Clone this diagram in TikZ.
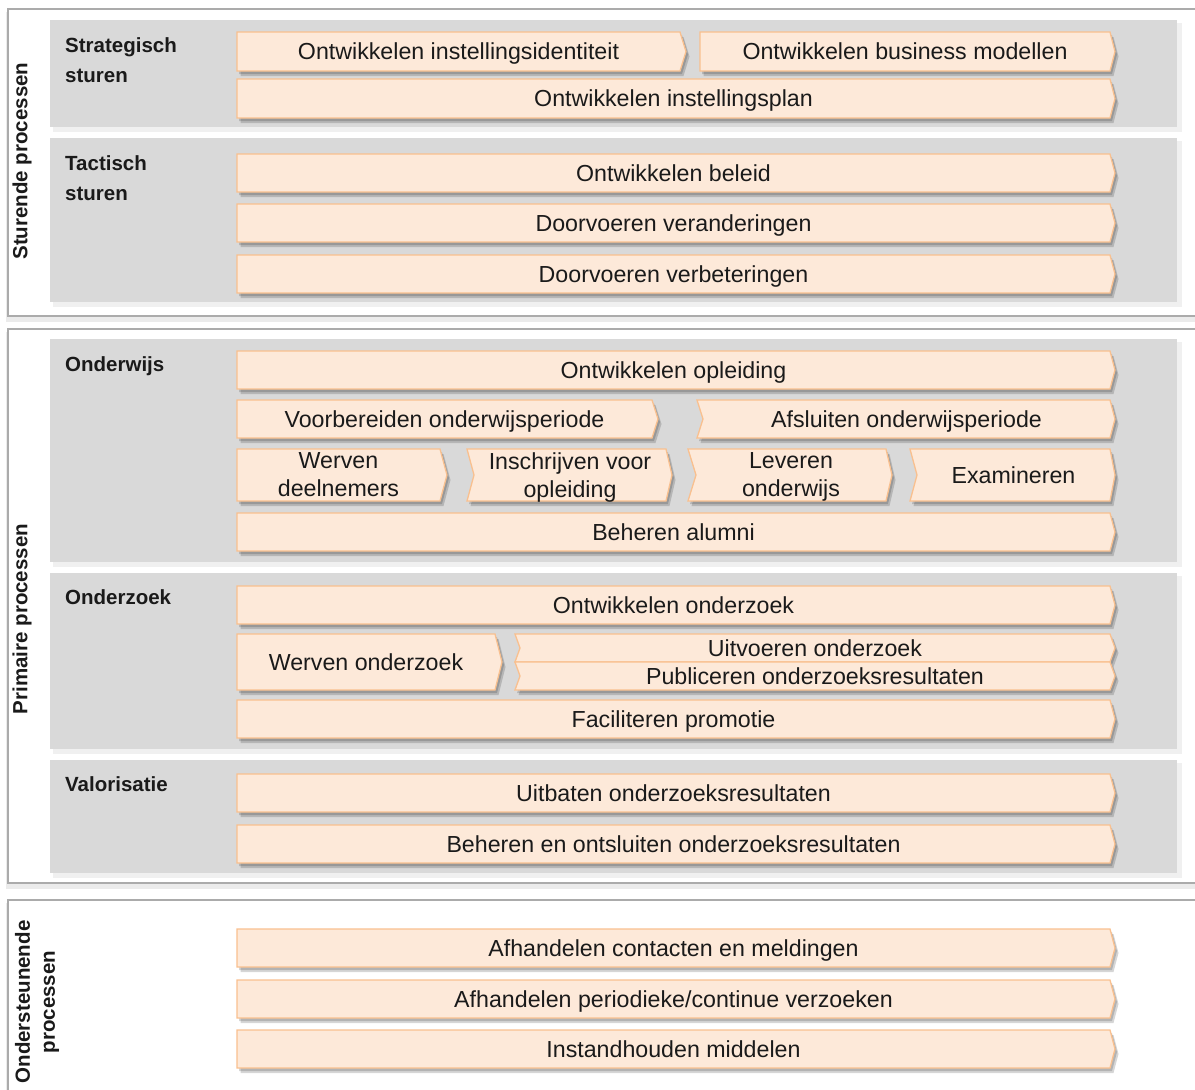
\documentclass[tikz,border=0pt]{standalone}
\usepackage{fontspec}
\setmainfont{Liberation Sans}
\definecolor{panelgray}{HTML}{D9D9D9}
\definecolor{framegray}{HTML}{ABABAB}
\definecolor{boxfill}{HTML}{FDE9D9}
\definecolor{boxline}{HTML}{F9C08F}
\definecolor{textdark}{HTML}{1A1A1A}

\tikzset{
  frameline/.style={draw=framegray, line width=1.6pt, fill=white},
  frameshadow/.style={fill=black, opacity=0.08},
  panel/.style={fill=panelgray},
  panelshadow/.style={fill=black, opacity=0.06},
  boxstyle/.style={fill=boxfill, draw=boxline, line width=1.3pt, line join=miter},
  boxshadow/.style={fill=black, opacity=0.16},
  boxtext/.style={text=textdark, inner sep=0pt,
    font=\fontsize{23.2}{28.3}\selectfont},
  grouplabel/.style={text=textdark, inner sep=0pt, align=left, anchor=north west,
    font=\bfseries\fontsize{20.5}{30.5}\selectfont},
  sidelabel/.style={text=textdark, inner sep=0pt, align=center, rotate=90,
    font=\bfseries\fontsize{20.5}{25}\selectfont}
}

% outline of a process step: x1, x2, y1, y2, left notch depth, right tip depth
\newcommand{\stepshape}[6]{%
  (#1,#3) -- (#2,#3) -- (#2+#6,\pbym) -- (#2,#4) -- (#1,#4) -- (#1+#5,\pbym) -- cycle}

% process step with shadow and outline
\newcommand{\stepbase}[6]{%
  \pgfmathsetmacro\pbym{(#3+#4)/2}%
  \pgfmathsetmacro\pbxm{(#1+#2+#5)/2}%
  \fill[boxshadow, shift={(3.5,5)}] \stepshape{#1}{#2}{#3}{#4}{#5}{#6};
  \fill[boxshadow, shift={(2,3)}] \stepshape{#1}{#2}{#3}{#4}{#5}{#6};
  \draw[boxstyle] \stepshape{#1}{#2}{#3}{#4}{#5}{#6};
}

% single-line process step: name, x1, x2, y1, y2, notch, tip, text
\newcommand{\procbox}[8]{%
  \stepbase{#2}{#3}{#4}{#5}{#6}{#7}%
  \node[boxtext, text height=16.6pt, text depth=0pt] (#1) at (\pbxm,\pbym) {#8};
}

% two-line process step: name, x1, x2, y1, y2, notch, tip, text
\newcommand{\procboxii}[8]{%
  \stepbase{#2}{#3}{#4}{#5}{#6}{#7}%
  \node[boxtext, align=center, anchor=north] (#1) at (\pbxm,\pbym-22.8) {#8};
}

\begin{document}
\begin{tikzpicture}[x=1pt, y=-1pt]
  \useasboundingbox (0,0) rectangle (1195,1090);
  \clip (0,0) rectangle (1195,1090);
  \fill[white] (0,0) rectangle (1195,1090);

  % outer frames
  \fill[frameshadow] (6,12) rectangle (1215,322);
  \draw[frameline] (8,9) rectangle (1215,316);
  \fill[frameshadow] (6,332) rectangle (1215,889);
  \draw[frameline] (8,329) rectangle (1215,883);
  \fill[frameshadow] (6,903) rectangle (1215,1110);
  \draw[frameline] (8,900) rectangle (1215,1110);

  % grey group panels
  \foreach \ya/\yb in {20/127, 138/302, 339/562, 573/749, 760/873} {
    \fill[panelshadow] (53,\ya+3) rectangle (1182,\yb+5);
    \fill[panel] (50,\ya) rectangle (1177,\yb);
  }

  % side labels
  \node[sidelabel] (sturende) at (22,161) {Sturende processen};
  \node[sidelabel] (primaire) at (22,619) {Primaire processen};
  \node[sidelabel] (ondersteunende) at (37,1002) {Ondersteunende\\processen};

  % group labels
  \node[grouplabel] (strategisch) at (65,37) {Strategisch\\sturen};
  \node[grouplabel] (tactisch) at (65,155) {Tactisch\\sturen};
  \node[grouplabel] (onderwijs) at (65,356) {Onderwijs};
  \node[grouplabel] (onderzoek) at (65,589) {Onderzoek};
  \node[grouplabel] (valorisatie) at (65,776) {Valorisatie};

  % strategisch sturen
  \procbox{s1}{237}{680}{32}{71}{0}{6}{Ontwikkelen instellingsidentiteit}
  \procbox{s2}{700}{1110}{32}{71}{0}{5}{Ontwikkelen business modellen}
  \procbox{s3}{237}{1110}{79}{118}{0}{5}{Ontwikkelen instellingsplan}

  % tactisch sturen
  \procbox{t1}{237}{1110}{154}{192}{0}{5}{Ontwikkelen beleid}
  \procbox{t2}{237}{1110}{204}{242}{0}{5}{Doorvoeren veranderingen}
  \procbox{t3}{237}{1110}{255}{293}{0}{5}{Doorvoeren verbeteringen}

  % onderwijs
  \procbox{o1}{237}{1110}{351}{389}{0}{5}{Ontwikkelen opleiding}
  \procbox{o2}{237}{652}{400}{438}{0}{6}{Voorbereiden onderwijsperiode}
  \procbox{o3}{697}{1110}{400}{438}{6}{5}{Afsluiten onderwijsperiode}
  \procboxii{o4}{237}{440}{449}{501}{0}{7}{Werven\\deelnemers}
  \procboxii{o5}{467}{666}{449}{501}{7}{6}{Inschrijven voor\\opleiding}
  \procboxii{o6}{688}{886}{449}{501}{8}{6}{Leveren\\onderwijs}
  \procbox{o7}{910}{1110}{449}{501}{7}{5}{Examineren}
  \procbox{o8}{237}{1110}{513}{551}{0}{5}{Beheren alumni}

  % onderzoek
  \procbox{z1}{237}{1110}{586}{624}{0}{5}{Ontwikkelen onderzoek}
  \procbox{z2}{237}{495}{634}{690}{0}{7}{Werven onderzoek}
  \procbox{z3}{515}{1110}{634}{662}{5}{5}{Uitvoeren onderzoek}
  \procbox{z4}{515}{1110}{662}{690}{5}{5}{Publiceren onderzoeksresultaten}
  \procbox{z5}{237}{1110}{700}{738}{0}{5}{Faciliteren promotie}

  % valorisatie
  \procbox{v1}{237}{1110}{774}{812}{0}{5}{Uitbaten onderzoeksresultaten}
  \procbox{v2}{237}{1110}{825}{863}{0}{5}{Beheren en ontsluiten onderzoeksresultaten}

  % ondersteunende processen
  \procbox{u1}{237}{1110}{929}{967}{0}{5}{Afhandelen contacten en meldingen}
  \procbox{u2}{237}{1110}{980}{1018}{0}{5}{Afhandelen periodieke/continue verzoeken}
  \procbox{u3}{237}{1110}{1030}{1068}{0}{5}{Instandhouden middelen}
\end{tikzpicture}
\end{document}
